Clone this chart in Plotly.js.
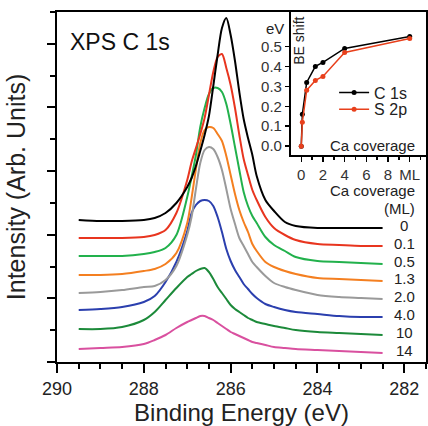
<!DOCTYPE html>
<html>
<head>
<meta charset="utf-8">
<script src="https://cdn.plot.ly/plotly-3.0.1.min.js"></script>
<style>html,body{margin:0;padding:0;background:#fff;}#chart{width:428px;height:426px;}</style>
</head>
<body>
<div id="chart"></div>
<script>
// Binding energy grid (eV)
const energy = [289.5, 289.0, 288.5, 288.0, 287.75, 287.5, 287.25, 287.0, 286.9, 286.8, 286.7, 286.6, 286.5, 286.4, 286.3, 286.2, 286.1, 286.0, 285.9, 285.8, 285.7, 285.6, 285.5, 285.4, 285.2, 285.0, 284.75, 284.5, 284.0, 283.5, 283.0, 282.5];

// Offset spectra (arb. units), one per Ca coverage
const cov0  = [142,141,141,142,144,149,159,175,184,196,211,227,246,276,307,334,344,327,301,270,243,224,207,186,162,151,140,136,134,134,134,134];
const cov01 = [124,124,124,125,127,132,149,182,200,214,228,244,267,290,305,308,294,277,254,227,203,187,172,162,145,134,127,122,118,117,116,116];
const cov05 = [106,106,106,108,110,114,127,165,185,207,235,254,268,274,274,270,258,238,215,192,170,156,146,139,125,117,111,105,101,100,99,98];
const cov13 = [87,87,88,91,93,98,109,139,164,193,219,232,235,234,228,221,206,187,168,152,140,130,118,111,100,95,91,88,84,83,82,81];
const cov20 = [69,70,72,75,76,82,96,127,145,173,199,212,215,213,205,192,173,153,138,124,116,108,100,95,86,79,75,72,67,65,64,63];
const cov40 = [52,53,55,60,66,80,100,131,149,157,161,162,161,156,145,130,113,101,92,85,78,73,68,64,58,55,52,50,48,46,45,45];
const cov10 = [33,33,35,42,50,62,74,85,88,91,93,94,90,83,75,69,63,57,53,50,47,44,42,40,38,36,34,32,30,29,28,27];
const cov14 = [13,14,15,18,22,27,34,40,42,44,46,46,44,42,39,36,33,30,28,26,24,22,20,19,17,15,14,13,12,11,10,9];

const coverageLabels = ["0","0.1","0.5","1.3","2.0","4.0","10","14"];
const spectra = [cov0, cov01, cov05, cov13, cov20, cov40, cov10, cov14];
const colors = ["#000000","#e8351f","#22b14c","#f47f20","#9a9a9a","#2b3fae","#1c8a3a","#d9509f"];

// Inset: BE shift vs Ca coverage
const insetCoverage = [0, 0.1, 0.5, 1.3, 2.0, 4.0, 10];
const shiftC1s = [0, 0.16, 0.32, 0.40, 0.42, 0.49, 0.55];
const shiftS2p = [0, 0.12, 0.28, 0.33, 0.35, 0.47, 0.54];
const insetTickVals = [0, 2, 4, 6, 8, 10];
const insetTickText = ["0","2","4","6","8","ML"];
const shiftTickVals = [0, 0.1, 0.2, 0.3, 0.4, 0.5];

const FONT = "Liberation Sans, Arial, Helvetica, sans-serif";
const traces = [];
for (let i = spectra.length - 1; i >= 0; i--) {
  traces.push({
    x: energy, y: spectra[i], type: 'scatter', mode: 'lines',
    line: {color: colors[i], width: 2, shape: 'spline', smoothing: 0.8},
    showlegend: false, xaxis: 'x', yaxis: 'y'
  });
}
traces.push({
  x: insetCoverage, y: shiftC1s, type: 'scatter', mode: 'lines+markers', name: 'C 1s',
  line: {color: '#000', width: 1.5}, marker: {color: '#000', size: 5},
  xaxis: 'x2', yaxis: 'y2', legend: 'legend'
});
traces.push({
  x: insetCoverage, y: shiftS2p, type: 'scatter', mode: 'lines+markers', name: 'S 2p',
  line: {color: '#e8401c', width: 1.5}, marker: {color: '#e8401c', size: 5},
  xaxis: 'x2', yaxis: 'y2', legend: 'legend2'
});

const annotations = [];
spectra.forEach((s, i) => {
  annotations.push({
    x: 282.0, y: s[s.length - 1] + 3, xref: 'x', yref: 'y',
    text: coverageLabels[i], showarrow: false,
    font: {family: FONT, size: 15, color: '#222'}, xanchor: 'center', yanchor: 'middle'
  });
});
annotations.push({x: 0.976, y: 0.491, xref: 'paper', yref: 'paper', text: 'Ca coverage', showarrow: false,
  font: {family: FONT, size: 15, color: '#222'}, xanchor: 'right', yanchor: 'middle'});
annotations.push({x: 0.976, y: 0.44, xref: 'paper', yref: 'paper', text: '(ML)', showarrow: false,
  font: {family: FONT, size: 15, color: '#222'}, xanchor: 'right', yanchor: 'middle'});
annotations.push({x: 0.03, y: 0.914, xref: 'paper', yref: 'paper', text: 'XPS C 1s', showarrow: false,
  font: {family: FONT, size: 23, color: '#111'}, xanchor: 'left', yanchor: 'middle'});
annotations.push({x: 0.62, y: 0.954, xref: 'paper', yref: 'paper', text: 'eV', showarrow: false,
  font: {family: FONT, size: 15, color: '#222'}, xanchor: 'right', yanchor: 'middle'});
annotations.push({x: 0.655, y: 0.917, xref: 'paper', yref: 'paper', text: 'BE shift', showarrow: false, textangle: -90,
  font: {family: FONT, size: 14, color: '#222'}, xanchor: 'center', yanchor: 'middle'});
annotations.push({x: 0.976, y: 0.62, xref: 'paper', yref: 'paper', text: 'Ca coverage', showarrow: false,
  font: {family: FONT, size: 15, color: '#222'}, xanchor: 'right', yanchor: 'middle'});

const layout = {
  width: 428, height: 426,
  margin: {l: 57, r: 2, t: 12, b: 64},
  paper_bgcolor: '#fff', plot_bgcolor: 'rgba(0,0,0,0)',
  font: {family: FONT, color: '#222'},
  xaxis: {
    range: [290, 281.5], tick0: 290, dtick: 2, ticks: 'outside', ticklen: 9, tickwidth: 2, tickcolor: '#000',
    minor: {dtick: 0.5, ticks: 'outside', ticklen: 5, tickwidth: 2, tickcolor: '#000'},
    showline: true, linewidth: 2, linecolor: '#000', mirror: true, showgrid: false, zeroline: false,
    tickfont: {family: FONT, size: 18, color: '#222'},
    title: {text: 'Binding Energy (eV)', font: {family: FONT, size: 24, color: '#222'}, standoff: 12}
  },
  yaxis: {
    range: [0, 350], tick0: 0, dtick: 63.64, ticks: 'outside', ticklen: 8, tickwidth: 2, tickcolor: '#000',
    minor: {dtick: 31.82, ticks: 'outside', ticklen: 5, tickwidth: 2, tickcolor: '#000'},
    showticklabels: false, showline: true, linewidth: 2, linecolor: '#000', mirror: true, showgrid: false, zeroline: false,
    title: {text: 'Intensity (Arb. Units)', font: {family: FONT, size: 25, color: '#222'}, standoff: 14}
  },
  xaxis2: {
    domain: [0.634, 1], anchor: 'y2', range: [-0.95, 11.5],
    tickvals: insetTickVals, ticktext: insetTickText, ticks: 'outside', ticklen: 5, tickwidth: 1.5, tickcolor: '#000',
    minor: {dtick: 1, ticks: 'outside', ticklen: 3, tickwidth: 1.5, tickcolor: '#000'},
    showline: true, linewidth: 2, linecolor: '#000', showgrid: false, zeroline: false,
    tickfont: {family: FONT, size: 15, color: '#333'}
  },
  yaxis2: {
    domain: [0.591, 1], anchor: 'x2', range: [-0.045, 0.673],
    tickvals: shiftTickVals, tickformat: '.1f', ticks: 'outside', ticklen: 4, tickwidth: 1.5, tickcolor: '#000',
    showline: true, linewidth: 2, linecolor: '#000', showgrid: false, zeroline: false,
    tickfont: {family: FONT, size: 15, color: '#333'}
  },
  legend: {x: 0.751, y: 0.77, xanchor: 'left', yanchor: 'middle', bgcolor: 'rgba(0,0,0,0)',
    font: {family: FONT, size: 16, color: '#222'}, borderwidth: 0},
  legend2: {x: 0.751, y: 0.722, xanchor: 'left', yanchor: 'middle', bgcolor: 'rgba(0,0,0,0)',
    font: {family: FONT, size: 16, color: '#222'}, borderwidth: 0},
  annotations: annotations,
  hovermode: false
};
Plotly.newPlot('chart', traces, layout, {staticPlot: true, displayModeBar: false});
</script>
</body>
</html>
